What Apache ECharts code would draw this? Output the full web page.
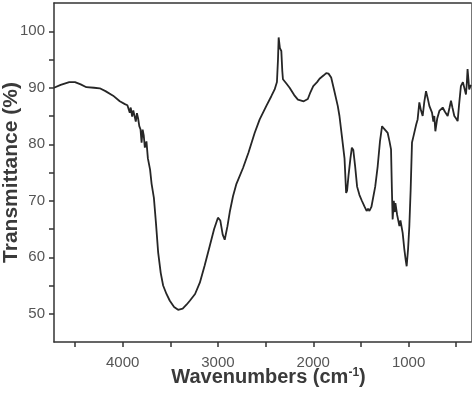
<!DOCTYPE html>
<html>
<head>
<meta charset="utf-8">
<script src="https://cdn.jsdelivr.net/npm/echarts@6/dist/echarts.min.js"></script>
<style>
html,body{margin:0;padding:0;background:#fff;}
#chart{width:474px;height:393px;}
</style>
</head>
<body>
<div id="chart"></div>
<script>
// Wavenumber (cm-1) values
const wavenumbers = [4720,4650,4560,4500,4440,4380,4300,4240,4180,4100,4030,3976,3950,3935,3925,3915,3900,3888,3875,3862,3850,3838,3825,3812,3801,3790,3778,3767,3750,3735,3712,3696,3672,3650,3627,3600,3575,3540,3505,3460,3418,3370,3330,3295,3240,3190,3140,3086,3040,3000,2975,2950,2929,2900,2876,2842,2806,2737,2680,2615,2562,2492,2440,2405,2381,2370,2363,2350,2335,2325,2318,2280,2248,2200,2161,2100,2057,2030,2000,1960,1934,1890,1864,1840,1812,1780,1743,1725,1700,1672,1655,1645,1630,1610,1595,1580,1560,1540,1515,1490,1463,1440,1425,1411,1390,1376,1350,1324,1300,1278,1260,1240,1219,1200,1184,1175,1167,1155,1145,1138,1120,1096,1085,1062,1045,1030,1020,1005,992,978,964,950,939,920,905,887,870,852,835,817,800,782,768,754,740,730,719,700,677,660,642,620,605,590,570,555,540,520,503,485,470,451,430,416,398,390,381,372,364,346];
// Transmittance (%) values
const transmittance = [90.0,90.5,91.0,91.0,90.6,90.1,90.0,89.9,89.4,88.6,87.6,87.1,86.9,87.2,85.6,86.5,84.9,86.0,85.7,84.0,85.5,84.6,83.2,82.6,80.3,82.6,81.5,79.4,80.5,77.5,75.5,73.0,70.5,66.0,60.8,57.2,55.0,53.5,52.3,51.2,50.7,50.9,51.6,52.3,53.5,55.5,58.5,62.0,65.0,67.0,66.5,64.0,63.1,65.5,68.0,70.8,73.0,75.8,78.5,82.0,84.4,86.8,88.5,89.7,91.0,95.0,98.9,97.0,96.5,93.0,91.5,90.7,90.0,88.7,87.9,87.6,88.0,89.2,90.3,91.0,91.6,92.2,92.6,92.5,91.8,89.5,86.8,85.0,81.5,77.5,71.4,71.8,74.5,77.5,79.4,79.0,76.0,72.5,71.0,70.0,69.0,68.2,68.6,68.2,68.9,69.0,72.5,76.1,80.5,83.2,82.8,82.6,82.0,80.5,79.1,72.0,66.7,70.0,68.0,69.6,67.5,65.5,66.5,64.3,61.5,59.5,58.4,61.5,65.5,72.0,80.3,81.3,81.5,83.5,84.4,87.4,86.0,85.0,87.5,89.4,88.2,86.8,87.0,85.6,84.0,85.0,82.3,84.5,85.9,86.2,86.5,85.8,85.5,85.0,86.5,87.7,86.5,85.0,84.6,84.1,87.0,90.3,91.0,91.2,88.8,90.5,93.3,91.5,89.7,90.5];
const xLabelValues = [4000,3000,2000,1000];
const xTickValues = [4500,4000,3500,3000,2500,2000,1500,1000,500];
const yLabelValues = [50,60,70,80,90,100];
const yTickValues = [50,55,60,65,70,75,80,85,90,95,100];

const points = wavenumbers.map((w,i)=>[w, transmittance[i]]);
const FONT = 'Liberation Sans, Arial, Helvetica, sans-serif';

const chart = echarts.init(document.getElementById('chart'), null, {renderer:'canvas'});
chart.setOption({
  animation:false,
  backgroundColor:'#fff',
  grid:{left:54, right:3, top:3, bottom:51, containLabel:false, outerBoundsMode:'none'},
  xAxis:[{
    type:'value', inverse:true, min:345, max:4720,
    name:'{a|Wavenumbers (cm}{s|-1}{a|)}',
    nameLocation:'middle', nameGap:25, nameMoveOverlap:false,
    nameTextStyle:{
      padding:[0,0,0,12],
      rich:{
        a:{fontFamily:FONT, fontSize:20, fontWeight:'bold', color:'#3a3a3a'},
        s:{fontFamily:FONT, fontSize:12, fontWeight:'bold', color:'#3a3a3a', verticalAlign:'top', padding:[0,0,8,0]}
      }
    },
    axisLine:{show:true, onZero:false, lineStyle:{color:'#333', width:1.5}},
    axisTick:{show:true, inside:false, length:5, customValues:xTickValues, lineStyle:{color:'#333', width:1.5}},
    axisLabel:{show:true, customValues:xLabelValues, margin:13, fontFamily:FONT, fontSize:15, color:'#555', formatter:(v)=>String(v)},
    splitLine:{show:false}
  },{
    type:'value', inverse:true, min:345, max:4720, position:'top',
    axisLine:{show:true, onZero:false, lineStyle:{color:'#333', width:1.5}},
    axisTick:{show:false}, axisLabel:{show:false}, splitLine:{show:false}
  }],
  yAxis:[{
    type:'value', min:45, max:105,
    name:'Transmittance (%)',
    nameLocation:'middle', nameGap:32, nameRotate:90, nameMoveOverlap:false,
    nameTextStyle:{fontFamily:FONT, fontSize:21, fontWeight:'bold', color:'#3a3a3a'},
    axisLine:{show:true, onZero:false, lineStyle:{color:'#333', width:1.5}},
    axisTick:{show:true, inside:false, length:5, customValues:yTickValues, lineStyle:{color:'#333', width:1.5}},
    axisLabel:{show:true, customValues:yLabelValues, margin:9, fontFamily:FONT, fontSize:15, color:'#555', formatter:(v)=>String(v)},
    splitLine:{show:false}
  },{
    type:'value', min:45, max:105, position:'right',
    axisLine:{show:true, onZero:false, lineStyle:{color:'#777', width:1}},
    axisTick:{show:false}, axisLabel:{show:false}, splitLine:{show:false}
  }],
  series:[{
    type:'line', data:points, xAxisIndex:0, yAxisIndex:0,
    showSymbol:false, smooth:false,
    lineStyle:{color:'#262626', width:1.8},
    clip:true
  }]
});
</script>
</body>
</html>
